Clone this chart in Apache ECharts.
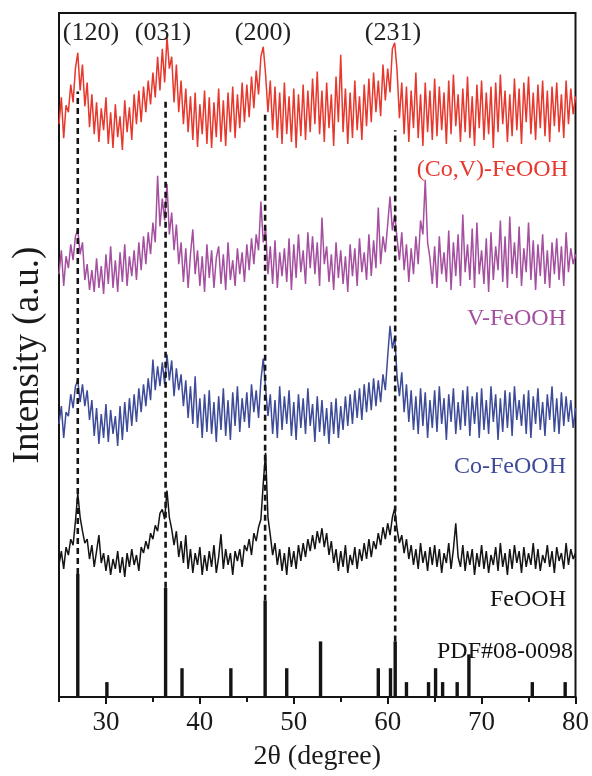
<!DOCTYPE html>
<html>
<head>
<meta charset="utf-8">
<script src="https://cdn.jsdelivr.net/npm/echarts@6/dist/echarts.min.js"></script>
<style>
html,body{margin:0;padding:0;background:#fff;}
#chart{width:592px;height:776px;}
</style>
</head>
<body>
<div id="chart"></div>
<script>
// 2θ sampling grid (degrees)
var X_START = 25, X_STEP = 0.25;

// Intensities (a.u.), one value per 0.25°, from 25° to 80°
var coVFeOOH = [
28,55,14,47, 40,68,50,84, 100,62,88,46, 70,25,58,18, 50,10,44,22,
55,8,40,4, 48,15,36,2, 52,20,45,12, 58,28,62,30, 66,40,72,48,
80,55,96,62, 104,70,116,84, 96,50,88,40, 72,28,64,20, 56,12,60,5,
48,18,62,8, 55,4,50,15, 64,10,52,6, 60,20,66,14, 58,24,70,30,
68,35,76,44, 82,58,96,106, 78,40,72,22, 66,14,60,8, 70,18,56,10,
64,4,58,16, 68,12,62,20, 74,28,81,18, 62,10,70,24, 58,6,76,30,
98,20,64,8, 60,14,72,22, 56,12,68,26, 74,30,80,40, 72,36,88,52,
84,60,104,110, 82,34,70,18, 66,10,62,24, 80,14,58,6, 70,20,62,12,
74,16,66,22, 60,8,72,18, 78,26,58,10, 64,20,76,14, 56,6,68,24,
72,12,60,18, 66,4,70,20, 78,28,62,10, 58,16,74,22, 64,8,70,30,
76,18,60,12, 68,24,72,16, 62,10,66,26, 70,20,58,14, 72,28,64,38,
56];
var vFeOOH = [
20,44,8,38, 26,50,34,58, 65,40,52,14, 30,4,24,2, 36,6,28,0,
40,10,48,6, 34,2,42,12, 50,8,38,18, 44,14,52,24, 58,30,62,40,
72,52,119,68, 96,74,111,60, 82,44,70,30, 52,12,46,6, 40,65,20,44,
8,38,2,50, 16,44,6,36, 48,10,40,4, 52,14,34,8, 46,20,42,12,
50,24,56,30, 60,44,93,52, 66,20,48,10, 54,6,42,18, 46,12,56,4,
50,16,60,22, 44,10,62,26, 58,20,52,8, 77,30,48,12, 40,4,52,16,
44,10,38,2, 50,18,46,8, 56,22,42,14, 60,18,54,26, 87,30,58,42,
70,98,64,80, 56,34,62,24, 50,12,46,20, 58,30,74,60, 115,52,36,10,
48,6,58,20, 42,12,64,4, 52,18,60,8, 80,22,50,14, 66,6,72,20,
44,10,56,2, 62,14,48,24, 74,12,58,6, 78,20,52,16, 68,8,46,22,
72,14,54,4, 50,18,60,10, 44,6,52,20, 56,14,48,8, 62,22,46,30,
40];
var coFeOOH = [
22,40,8,34, 30,52,38,60, 66,44,62,40, 56,26,46,10, 38,2,32,8,
42,4,36,12, 30,0,40,6, 44,14,48,20, 52,24,58,34, 62,40,68,46,
87,56,80,60, 84,62,92,66, 86,50,78,56, 72,40,66,28, 60,22,70,18,
48,8,52,14, 56,12,44,4, 50,16,58,10, 46,6,54,20, 60,14,48,24,
54,18,62,34, 56,28,66,88, 58,30,52,12, 46,8,60,16, 50,22,56,10,
44,6,52,18, 48,12,58,20, 42,4,50,14, 46,10,38,2, 44,12,48,8,
40,16,50,20, 52,22,56,28, 58,26,62,34, 64,36,68,40, 66,44,72,56,
90,121,98,110, 70,50,74,34, 62,24,56,16, 50,12,58,20, 54,8,46,18,
56,14,60,22, 48,6,52,24, 58,12,44,16, 56,20,60,10, 50,22,54,8,
58,16,46,12, 60,24,52,6, 48,14,56,18, 54,10,60,26, 46,20,52,12,
56,8,50,22, 58,16,44,10, 52,26,60,14, 48,12,54,20, 50,24,46,18,
38];
var feOOH = [
14,28,10,32, 24,40,34,58, 86,62,48,36, 40,20,34,12, 28,44,16,26,
8,24,4,20, 10,28,6,22, 2,26,12,30, 14,24,8,32, 26,38,30,46,
40,54,48,66, 70,60,89,62, 50,34,48,22, 38,16,44,10, 30,6,26,14,
32,4,24,8, 28,12,34,6, 22,45,10,30, 14,26,4,28, 18,30,12,34,
28,40,24,46, 38,52,60,96, 127,62,44,24, 36,14,30,8, 26,4,32,12,
28,10,34,18, 36,22,40,28, 44,30,48,36, 51,32,46,24, 38,16,30,8,
28,12,34,6, 24,14,32,10, 30,18,36,20, 40,22,38,30, 46,34,52,40,
56,44,62,71, 50,36,44,26, 40,20,34,14, 30,10,36,16, 28,8,32,14,
34,12,30,6, 26,16,36,10, 30,56,22,12, 34,8,28,14, 30,4,26,12,
34,10,28,6, 24,14,32,8, 36,12,26,4, 30,10,34,16, 28,6,32,12,
26,14,36,10, 30,8,24,16, 34,12,28,6, 32,18,26,10, 36,14,30,20,
26];

// Vertical stacking offsets of each pattern
var offsets = { coV: 549, v: 406, co: 253, fe: 119 };

// Standard card PDF#08-0098 (position °, relative intensity)
var pdfPos = [27.0, 30.1, 36.35, 38.1, 43.3, 46.95, 49.25, 52.85, 59.0, 60.3, 60.8, 62.0, 64.35, 65.1, 65.85, 67.4, 68.65, 75.4, 78.9];
var pdfInt = [124, 15, 110, 29, 29, 97, 29, 56, 29, 29, 56, 15, 15, 29, 15, 15, 43, 15, 15];

// Indexed reflections and guide lines
var hklLabels = ['(120)', '(031)', '(200)', '(231)'];
var hklPos = [27.0, 36.35, 46.95, 60.8];
var guideTop = [610, 600, 587, 571];

var xMajor = [30, 40, 50, 60, 70, 80];
var xMinor = [25, 35, 45, 55, 65, 75];

function toXY(arr, off) {
  return arr.map(function (v, i) { return [X_START + X_STEP * i, v + off]; });
}
function pdfHeightAt(x) {
  var k = pdfPos.indexOf(x);
  return k >= 0 ? pdfInt[k] : 0;
}

var SERIF = '"Liberation Serif","Times New Roman",serif';
var series = [];
var traces = [
  { d: coVFeOOH, off: offsets.coV, c: '#e6382d' },
  { d: vFeOOH, off: offsets.v, c: '#a44f9f' },
  { d: coFeOOH, off: offsets.co, c: '#3d4b98' },
  { d: feOOH, off: offsets.fe, c: '#141414' }
];
traces.forEach(function (t) {
  series.push({
    type: 'line', data: toXY(t.d, t.off), symbol: 'none', silent: true,
    lineStyle: { color: t.c, width: 1.5 }, z: 2
  });
});
series.push({
  type: 'bar', data: pdfPos.map(function (x, i) { return [x, pdfInt[i]]; }),
  barWidth: 3.4, itemStyle: { color: '#141414' }, silent: true, z: 3
});
hklPos.forEach(function (x, i) {
  series.push({
    type: 'line', data: [[x, pdfHeightAt(x)], [x, guideTop[i]]], symbol: 'none', silent: true,
    lineStyle: { color: '#141414', width: 2.6, type: [6, 4] }, z: 5
  });
});

function txt(s, x, y, color, size, align, rot) {
  return {
    type: 'text', x: x, y: y, rotation: rot || 0, z: 10,
    style: {
      text: s, fill: color, font: size + 'px ' + SERIF,
      align: align, verticalAlign: 'middle', textAlign: align, textVerticalAlign: 'middle'
    }
  };
}

var chart = echarts.init(document.getElementById('chart'), null, { renderer: 'canvas' });
chart.setOption({
  animation: false,
  backgroundColor: '#fff',
  grid: { left: 59, right: 15, top: 13, bottom: 74, show: true, borderColor: '#141414', borderWidth: 2, backgroundColor: 'transparent' },
  xAxis: [{
    type: 'value', min: 25, max: 80, interval: 5,
    axisLine: { show: true, lineStyle: { color: '#141414', width: 2 } },
    axisTick: { show: true, length: 7, lineStyle: { color: '#141414', width: 2 }, customValues: xMajor },
    axisLabel: { show: true, customValues: xMajor, margin: 12, color: '#1a1a1a', fontFamily: SERIF, fontSize: 27 },
    splitLine: { show: false },
    name: '2θ (degree)', nameLocation: 'middle', nameGap: 46,
    nameTextStyle: { color: '#1a1a1a', fontFamily: SERIF, fontSize: 28 }
  }, {
    type: 'value', min: 25, max: 80, interval: 5, position: 'bottom',
    axisLine: { show: false },
    axisTick: { show: true, length: 5, lineStyle: { color: '#141414', width: 2 }, customValues: xMinor },
    axisLabel: { show: false }, splitLine: { show: false }
  }],
  yAxis: {
    type: 'value', min: 0, max: 689,
    axisLine: { show: true, lineStyle: { color: '#141414', width: 2 } },
    axisTick: { show: false }, axisLabel: { show: false }, splitLine: { show: false },
    name: 'Intensity (a.u.)', nameLocation: 'middle', nameGap: 12, nameRotate: 90,
    nameTextStyle: { color: '#1a1a1a', fontFamily: SERIF, fontSize: 37 }
  },
  series: series,
  graphic: [
    txt(hklLabels[0], 91, 33, '#222', 26, 'center'),
    txt(hklLabels[1], 163, 33, '#222', 26, 'center'),
    txt(hklLabels[2], 263, 33, '#222', 26, 'center'),
    txt(hklLabels[3], 393, 33, '#222', 26, 'center'),
    txt('(Co,V)-FeOOH', 568, 170, '#e6382d', 24, 'right'),
    txt('V-FeOOH', 566, 319, '#a44f9f', 24, 'right'),
    txt('Co-FeOOH', 566, 467, '#3d4b98', 24, 'right'),
    txt('FeOOH', 566, 600, '#141414', 24, 'right'),
    txt('PDF#08-0098', 573, 652, '#141414', 24, 'right')
  ]
});
</script>
</body>
</html>
